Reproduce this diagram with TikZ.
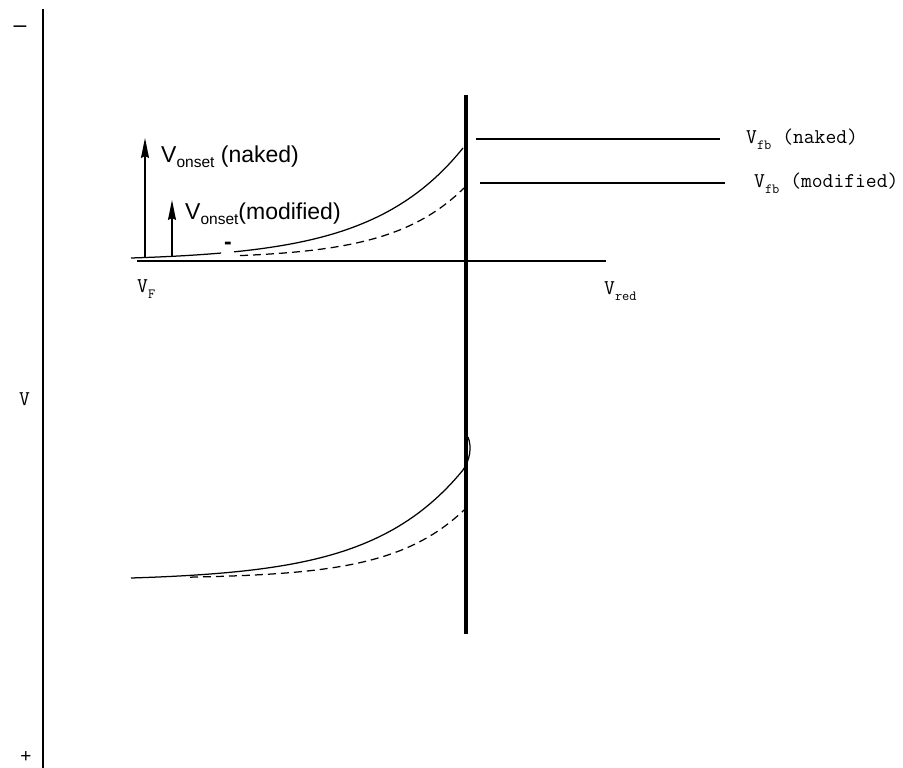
\documentclass[tikz,border=0pt]{standalone}
\usepackage{fontspec}
\setmainfont{Liberation Sans}
\usetikzlibrary{arrows.meta}
\newcommand{\monosub}[1]{\raisebox{-6.5pt}{\fontsize{14}{15}\selectfont #1}}
\newcommand{\sanssub}[1]{\raisebox{-5pt}{\fontsize{15.5}{16}\selectfont #1}}
\begin{document}
\begin{tikzpicture}[x=1pt,y=-1pt,
  thin line/.style={line width=1.25pt, black},
  thick bar/.style={line width=4.5pt, black},
  dash curve/.style={line width=1.25pt, dash pattern=on 8pt off 5pt},
  monolabel/.style={inner sep=0pt, anchor=base west, font=\ttfamily\fontsize{21}{23}\selectfont},
  sanslabel/.style={inner sep=0pt, anchor=base west, font=\fontsize{23}{26}\selectfont},
  uparrow/.style={line width=1.25pt, -{Stealth[length=20pt,width=8pt,inset=2pt]}}]
\useasboundingbox (0,0) rectangle (903,768);

% coordinates
\coordinate (axTop) at (43,9);
\coordinate (axBot) at (43,768);
\coordinate (barTop) at (466,95);
\coordinate (barBot) at (466,634);
\coordinate (hL) at (137,261);
\coordinate (hR) at (606,261);
\coordinate (fbnL) at (476,139);
\coordinate (fbnR) at (720,139);
\coordinate (fbmL) at (480,183);
\coordinate (fbmR) at (725,183);
\coordinate (anB) at (145,257);
\coordinate (anT) at (145,138);
\coordinate (amB) at (172,257);
\coordinate (amT) at (172,200);

% axis and lines
\draw[thin line] (axTop) -- (axBot);
\draw[thin line] (hL) -- (hR);
\draw[thin line] (fbnL) -- (fbnR);
\draw[thin line] (fbmL) -- (fbmR);

% upper solid curve with gap
\begin{scope}
\clip (0,0) rectangle (221,768);
\draw[thin line] plot[domain=131:463, samples=90, smooth] (\x, {258 - 110*(exp(0.011*(\x-131))-1)/(exp(0.011*332)-1)});
\end{scope}
\begin{scope}
\clip (234,0) rectangle (903,768);
\draw[thin line] plot[domain=131:463, samples=90, smooth] (\x, {258 - 110*(exp(0.011*(\x-131))-1)/(exp(0.011*332)-1)});
\end{scope}
% upper dashed
\draw[dash curve] plot[domain=240:464, samples=80, smooth] (\x, {258 - 70*(exp(0.014*(\x-131))-1)/(exp(0.014*333)-1)});

% lower solid curve with small loop
\draw[thin line] plot[domain=131:463, samples=90, smooth] (\x, {578 - 108*(exp(0.011*(\x-131))-1)/(exp(0.011*332)-1)})
  .. controls (470,460) and (472,447) .. (468,437);
% lower dashed
\draw[dash curve] plot[domain=190:464, samples=80, smooth] (\x, {578 - 68*(exp(0.014*(\x-131))-1)/(exp(0.014*333)-1)});

% thick bar
\draw[thick bar] (barTop) -- (barBot);

% arrows
\draw[uparrow] (anB) -- (anT);
\draw[uparrow] (amB) -- (amT);

% labels
\node[sanslabel] (lonN) at (161,162) {V\sanssub{onset} (naked)};
\node[sanslabel] (lonM) at (185,219) {V\sanssub{onset}(modified)};
\node[inner sep=0pt, anchor=base, font=\bfseries\fontsize{23}{26}\selectfont] (dash) at (228,249.5) {-};

\node[monolabel] (lfbn) at (746,143) {V\monosub{fb} (naked)};
\node[monolabel] (lfbm) at (754,187) {V\monosub{fb} (modified)};
\node[monolabel] (lvf) at (137,292) {V\monosub{F}};
\node[monolabel] (lvred) at (604,294) {V\monosub{red}};
\node[monolabel] (lv) at (19,405) {V};
\node[inner sep=0pt, font=\fontsize{23}{25}\selectfont] (lminus) at (20,29) {–};
\node[inner sep=0pt, font=\fontsize{19}{21}\selectfont] (lplus) at (26,757) {+};
\end{tikzpicture}
\end{document}
